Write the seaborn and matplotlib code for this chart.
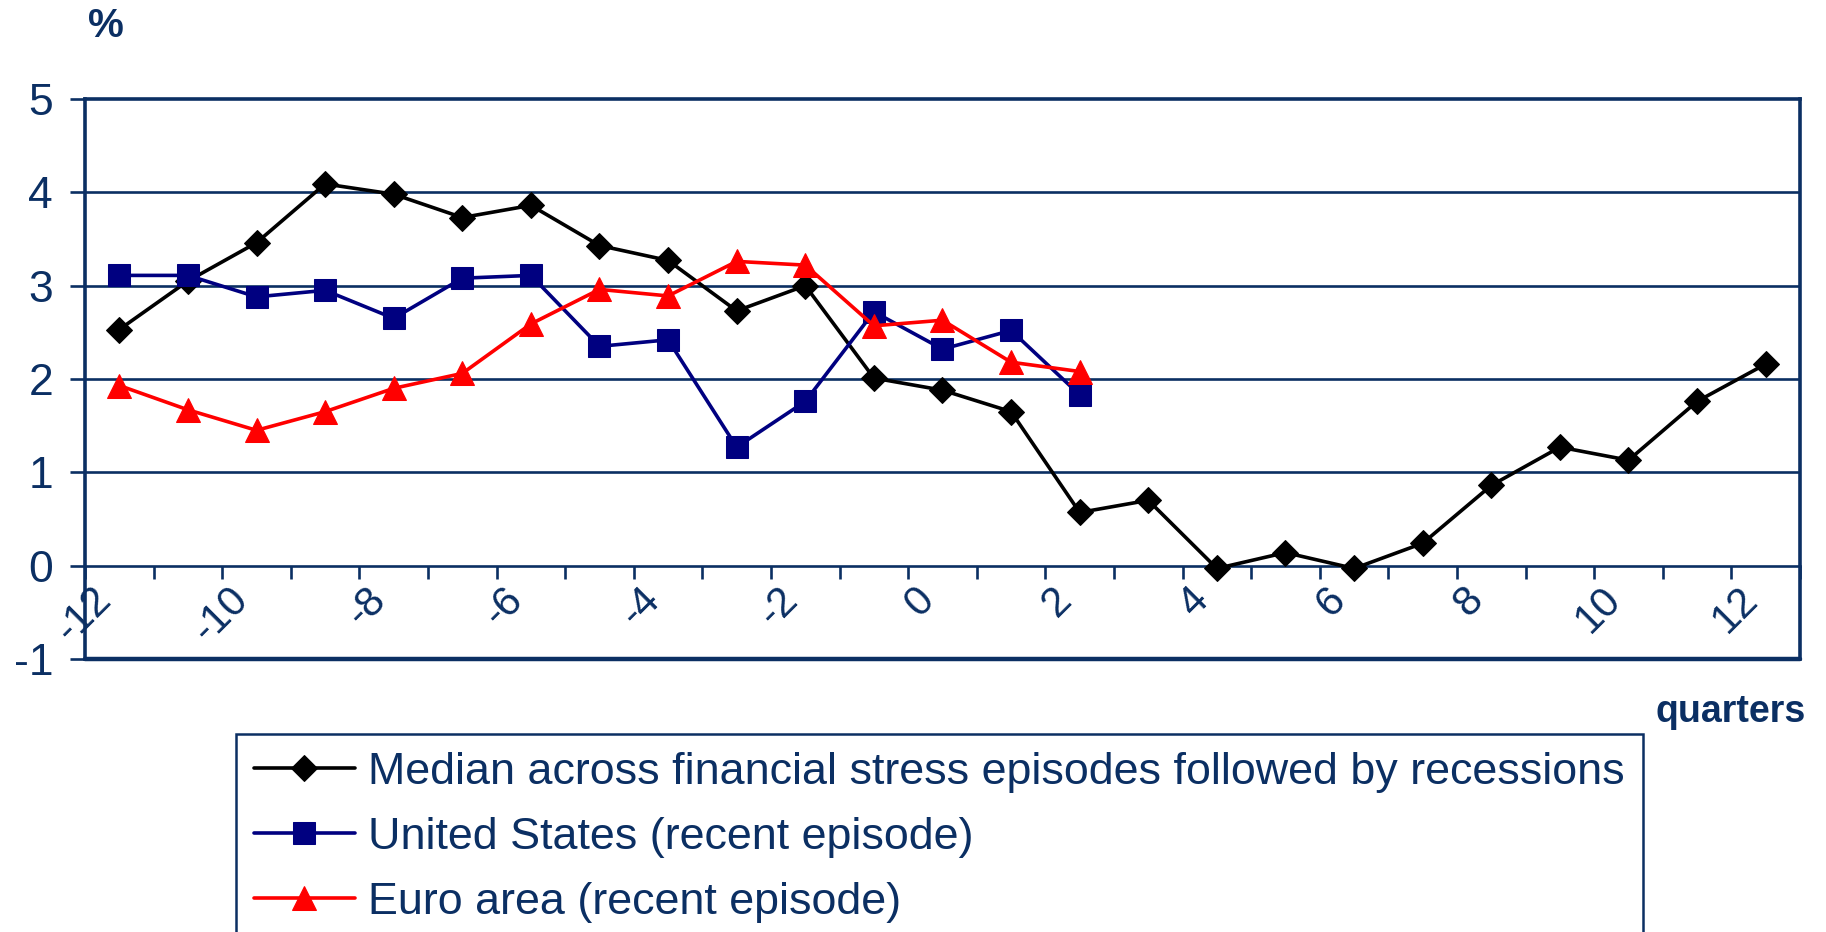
import matplotlib
matplotlib.use("Agg")
import matplotlib.pyplot as plt
from matplotlib.ticker import FixedLocator, NullFormatter
import numpy as np
import pandas as pd
import seaborn as sns

# Quarters relative to the start of the financial stress episode
quarters = list(range(-12, 13))
quarters_recent = list(range(-12, 3))

median_growth = [2.53, 3.05, 3.46, 4.09, 3.98, 3.73, 3.86, 3.43, 3.27, 2.73,
                 3.00, 2.01, 1.88, 1.65, 0.57, 0.70, -0.03, 0.14, -0.03, 0.24,
                 0.86, 1.27, 1.13, 1.76, 2.16]
us_growth = [3.11, 3.11, 2.88, 2.95, 2.65, 3.08, 3.11, 2.35, 2.42, 1.27,
             1.76, 2.72, 2.32, 2.52, 1.83]
euro_growth = [1.93, 1.67, 1.45, 1.65, 1.90, 2.06, 2.59, 2.96, 2.89, 3.26,
               3.22, 2.57, 2.63, 2.18, 2.08]

series_labels = ["Median across financial stress episodes followed by recessions",
                 "United States (recent episode)",
                 "Euro area (recent episode)"]
x_tick_values = list(range(-12, 13, 2))
y_tick_values = [-1, 0, 1, 2, 3, 4, 5]

NAVY = "#0B2F63"

sns.set_theme(style="white")
plt.rcParams["font.family"] = ["Liberation Sans", "DejaVu Sans"]

fig = plt.figure(figsize=(18.26, 9.32), dpi=100)
ax = fig.add_axes([0.04655, 0.29292, 0.93921, 0.60086])

median_df = pd.DataFrame({"quarter": quarters, "value": median_growth})
us_df = pd.DataFrame({"quarter": quarters_recent, "value": us_growth})
euro_df = pd.DataFrame({"quarter": quarters_recent, "value": euro_growth})

sns.lineplot(data=median_df, x="quarter", y="value", ax=ax, color="black",
             linewidth=2.6, marker="D", markersize=13, markeredgecolor="black",
             label=series_labels[0], zorder=4)
sns.lineplot(data=us_df, x="quarter", y="value", ax=ax, color="#000080",
             linewidth=2.6, marker="s", markersize=16, markeredgecolor="#000080",
             label=series_labels[1], zorder=5)
sns.lineplot(data=euro_df, x="quarter", y="value", ax=ax, color="#FF0000",
             linewidth=2.6, marker="^", markersize=17, markeredgecolor="#FF0000",
             label=series_labels[2], zorder=6)

ax.set_xlim(quarters[0] - 0.5, quarters[-1] + 0.5)
ax.set_ylim(y_tick_values[0], y_tick_values[-1])
ax.set_xlabel("")
ax.set_ylabel("")

# Horizontal gridlines and the outer frame of the plot area
for yv in y_tick_values[2:-1]:
    ax.axhline(yv, color=NAVY, linewidth=1.9, zorder=1)
ax.axhline(y_tick_values[0], color=NAVY, linewidth=3.2, zorder=2, clip_on=False)

for side in ["left", "right", "top"]:
    ax.spines[side].set_visible(True)
    ax.spines[side].set_color(NAVY)
    ax.spines[side].set_linewidth(2.6)
ax.spines["bottom"].set_position(("data", 0))
ax.spines["bottom"].set_color(NAVY)
ax.spines["bottom"].set_linewidth(1.9)

# Category axis: tick marks between quarters, labels on every second quarter
ax.xaxis.set_major_locator(FixedLocator(x_tick_values))
ax.set_xticklabels([str(v) for v in x_tick_values])
ax.xaxis.set_minor_locator(FixedLocator(np.arange(quarters[0] - 0.5, quarters[-1] + 1.0, 1.0)))
ax.xaxis.set_minor_formatter(NullFormatter())
ax.tick_params(axis="x", which="major", length=0, pad=10, labelsize=30,
               labelcolor=NAVY, labelrotation=45)
ax.tick_params(axis="x", which="minor", bottom=True, length=9.5, width=1.9,
               color=NAVY, direction="out")
for lbl in ax.get_xticklabels():
    lbl.set_ha("right")
    lbl.set_va("top")

ax.set_yticks(y_tick_values)
ax.set_yticklabels([str(v) for v in y_tick_values])
ax.tick_params(axis="y", which="major", left=True, length=11, width=1.9,
               color=NAVY, pad=12, labelsize=32, labelcolor=NAVY)

fig.text(0.058, 0.992, "%", fontsize=29, fontweight="bold", color=NAVY,
         ha="center", va="top")
fig.text(0.989, 0.225, "quarters", fontsize=27, fontweight="bold", color=NAVY,
         ha="right", va="baseline")

handles, labels = ax.get_legend_handles_labels()
leg = ax.legend(handles, labels, loc="upper left",
                bbox_to_anchor=(0.1292, 0.2124), bbox_transform=fig.transFigure,
                fontsize=32.3, labelcolor=NAVY, frameon=True, fancybox=False,
                framealpha=1, edgecolor=NAVY, borderaxespad=0, borderpad=0.4,
                handlelength=2.25, handletextpad=0.3, labelspacing=0.53)
leg.get_frame().set_linewidth(1.8)
leg.set_zorder(10)

fig.savefig("out.png", dpi=100, facecolor="white")
